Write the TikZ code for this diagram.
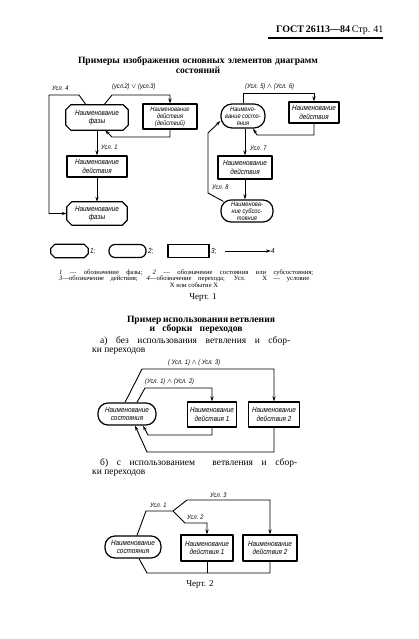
\documentclass[tikz,border=0pt]{standalone}
\usepackage{fontspec}
\setmainfont{Liberation Serif}
\newfontfamily\drf[FakeStretch=0.86]{Liberation Sans}
\usetikzlibrary{arrows.meta}
\newcommand\dtxt{\drf\itshape\fontsize{7.4}{8.2}\selectfont}
\newcommand\dsmall{\drf\itshape\fontsize{6.6}{7}\selectfont}
\newcommand\phaseoutline[2]{%
  \draw[shapeline] ([xshift=#2]#1.north west) -- ([xshift=-#2]#1.north east) -- ([yshift=-#2]#1.north east) -- ([yshift=#2]#1.south east) -- ([xshift=-#2]#1.south east) -- ([xshift=#2]#1.south west) -- ([yshift=#2]#1.south west) -- ([yshift=-#2]#1.north west) -- cycle;}
\tikzset{
  shapeline/.style={line width=1.2pt, line join=round},
  conn/.style={line width=0.9pt},
  arr/.style={conn, -{Stealth[length=5pt,width=3.2pt]}},
  sz/.style 2 args={minimum width=#1pt, minimum height=#2pt},
  actbox/.style={draw, shapeline, align=center, inner sep=0pt, font=\dtxt},
  statebox/.style={draw, shapeline, rounded corners=10pt, align=center, inner sep=0pt, font=\dtxt},
  phasebox/.style={align=center, inner sep=0pt, font=\dtxt},
  lbl/.style={font=\dsmall, inner sep=0pt, anchor=west},
  capt/.style={font=\fontsize{6.6}{6}\selectfont, inner sep=0pt},
  body/.style={font=\fontsize{9.5}{10}\selectfont, inner sep=0pt},
  ttl/.style={font=\bfseries\fontsize{9.6}{10}\selectfont, inner sep=0pt},
}
\begin{document}
\begin{tikzpicture}[x=1pt, y=-1pt]
\useasboundingbox[fill=white] (0,0) rectangle (419,639);

% header
\node[inner sep=0pt, anchor=west, font=\fontsize{10}{11}\selectfont] (hdr) at (276,30) {\makebox[107pt][s]{\textbf{ГОСТ 26113—84} Стр. 41}};
\draw[line width=1.3pt] (268,38) -- (383,38);

% title
\node[ttl] (t1a) at (198,61) {\makebox[240pt][s]{Примеры изображения основных элементов диаграмм}};
\node[ttl] (t1b) at (198,70.5) {состояний};

% ---------- upper-left ----------
\node[phasebox, sz={62}{25}] (phA) at (97,117.5) {Наименование\\фазы};
\phaseoutline{phA}{5pt}
\node[actbox, sz={54}{25}, font=\dsmall] (actA) at (170,116.5) {Наименование\\действия\\(действий)};
\node[actbox, sz={60}{21}] (actB) at (97,166.5) {Наименование\\действия};
\node[phasebox, sz={60}{23}] (phB) at (97,213.5) {Наименование\\фазы};
\phaseoutline{phB}{5pt}

\coordinate (a1) at (112,95);
\draw[arr] ([xshift=7pt]phA.north) -- (a1) -| (actA.north);
\coordinate (a2) at (112,137);
\draw[arr] (actA.south) |- (a2) -- ([xshift=8pt]phA.south);
\draw[arr] (phA.south) -- (actB.north);
\draw[arr] (actB.south) -- (phB.north);
\coordinate (a3) at (79,95);
\coordinate (a4) at (49,95);
\draw[arr] ([xshift=-11pt]phA.north) -- (a3) -- (a4) |- (phB.west);

\node[lbl] (l4) at (52,88) {Усл. 4};
\node[lbl] (l23) at (112,87) {(усл.2) $\vee$ (усл.3)};
\node[lbl] (l1) at (101,147) {Усл. 1};

% ---------- upper-right ----------
\node[statebox, sz={44}{24}, rounded corners=11pt, font=\dsmall] (stC) at (243,116) {Наимено-\\вание состо-\\яния};
\node[actbox, sz={50}{21}] (actC) at (314,112.5) {Наименование\\действия};
\node[actbox, sz={54}{23}] (actD) at (245,167.5) {Наименование\\действия};
\node[statebox, sz={52}{22}, font=\dsmall] (subE) at (247,211) {Наименова-\\ние субсос-\\тояния};

\coordinate (b1) at (243,93);
\draw[arr] (stC.north) -- (b1) -| (actC.north);
\coordinate (b2) at (257,135);
\draw[arr] (actC.south) |- (b2) -- ([xshift=10pt]stC.south);
\draw[arr] (stC.south -| actD.north) -- (actD.north);
\draw[arr] (actD.south) -- (actD.south |- subE.north);
\coordinate (b3) at (208,193);
\coordinate (b4) at (208,133);
\draw[arr] ([xshift=3pt,yshift=-2pt]subE.north west) -- (b3) -- (b4) -- ([yshift=-5pt]stC.west);

\node[lbl] (l56) at (245,87) {(Усл. 5) $\wedge$ (Усл. 6)};
\node[lbl] (l7) at (250,148) {Усл. 7};
\node[lbl] (l8) at (212,187) {Усл. 8};

% ---------- legend ----------
\node[phasebox, sz={37}{13}] (g1) at (69.5,251) {};
\phaseoutline{g1}{4pt}
\node[lbl, font=\dtxt] (g1t) at (90,251) {1;};
\node[statebox, sz={37}{13}, rounded corners=6pt] (g2) at (127.5,251) {};
\node[lbl, font=\dtxt] (g2t) at (148,251) {2;};
\node[actbox, sz={41}{13}] (g3) at (188.5,251) {};
\node[lbl, font=\dtxt] (g3t) at (211,251) {3;};
\coordinate (g4a) at (225,251);
\node[lbl, font=\dtxt] (g4t) at (271,251) {4};
\draw[arr] (g4a) -- (g4t.west);

\node[capt, anchor=west] (c1) at (59,273) {\makebox[254pt][s]{\textit{1} — обозначение фазы; \textit{2} — обозначение состояния или субсостояния;}};
\node[capt, anchor=west] (c2) at (59,279) {\makebox[250pt][s]{\textit{3}—обозначение действия; \textit{4}—обозначение перехода; Усл. X — условие}};
\node[capt] (c3) at (194,285) {X или событие X};
\node[body, font=\fontsize{9}{10}\selectfont] (ch1) at (203,297) {Черт. 1};

% ---------- section 2 ----------
\node[ttl] (t2a) at (201,320) {\makebox[148pt][s]{Пример использования ветвления}};
\node[ttl] (t2b) at (196,329.5) {\makebox[93pt][s]{и сборки переходов}};
\node[body, anchor=west] (pa1) at (100,341) {\makebox[190pt][s]{а) без использования ветвления и сбор-}};
\node[body, anchor=west] (pa2) at (92,351) {ки переходов};

\node[statebox, sz={58}{22}] (stF) at (127,414) {Наименование\\состояния};
\node[actbox, sz={49}{25}] (F1) at (212,414.5) {Наименование\\действия 1};
\node[actbox, sz={51}{25}] (F2) at (274,414.5) {Наименование\\действия 2};

\coordinate (f1) at (142,369);
\draw[arr] ([xshift=-2pt]stF.north) -- (f1) -| (F2.north);
\coordinate (f2) at (145,388);
\draw[arr] ([xshift=10pt]stF.north) -- (f2) -| (F1.north);
\coordinate (f3) at (148,435);
\draw[arr] (F1.south) |- (f3) -- ([xshift=16pt]stF.south);
\coordinate (f4) at (147,452);
\draw[arr] (F2.south) |- (f4) -- ([xshift=8pt]stF.south);

\node[lbl] (l13) at (168,363) {( Усл. 1) $\wedge$ ( Усл. 3)};
\node[lbl] (l12) at (145,382) {(Усл. 1) $\wedge$ (Усл. 2)};

\node[body, anchor=west] (pb1) at (100,463) {\makebox[197pt][s]{б) с использованием \ ветвления и сбор-}};
\node[body, anchor=west] (pb2) at (92,473) {ки переходов};

\node[statebox, sz={56}{22}] (stG) at (133,547) {Наименование\\состояния};
\node[actbox, sz={52}{26}] (G1) at (207,548) {Наименование\\действия 1};
\node[actbox, sz={54}{26}] (G2) at (270,548) {Наименование\\действия 2};

\coordinate (h1) at (146,511);
\coordinate (h2) at (173,511);
\coordinate (h3) at (187,500);
\coordinate (h4) at (185,523);
\draw[conn] ([xshift=4pt]stG.north) -- (h1) -- (h2);
\draw[arr] (h2) -- (h3) -| (G2.north);
\draw[arr] (h2) -- (h4) -| (G1.north);
\coordinate (h5) at (147,573);
\draw[conn] (G2.south) |- (h5) -- ([xshift=6pt]stG.south);
\draw[conn] (G1.south) -- (G1.south |- h5);

\node[lbl] (m1) at (150,505) {Усл. 1};
\node[lbl] (m3) at (210,495) {Усл. 3};
\node[lbl] (m2) at (187,517) {Усл. 2};

\node[body, font=\fontsize{9}{10}\selectfont] (ch2) at (200,584) {Черт. 2};
\end{tikzpicture}
\end{document}
